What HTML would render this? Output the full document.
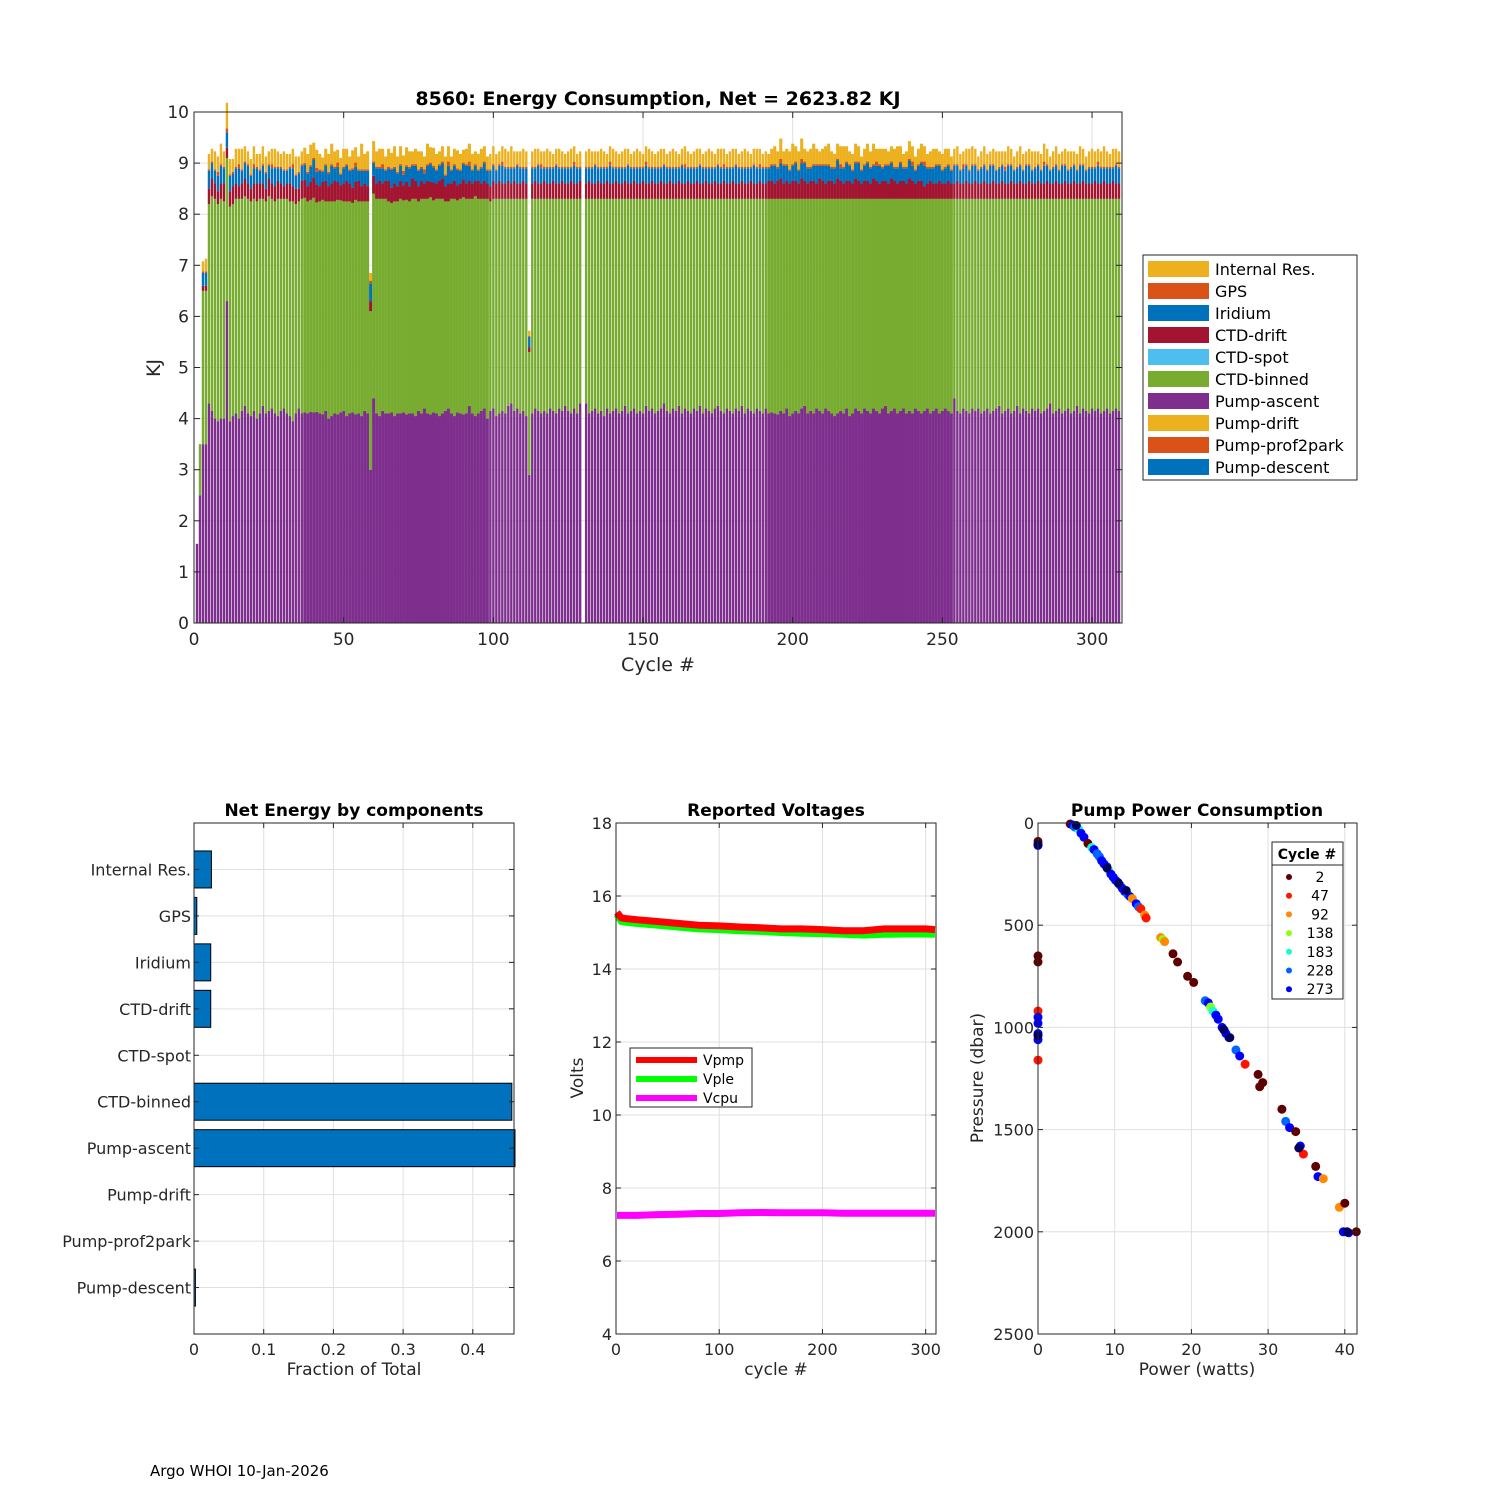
<!DOCTYPE html>
<html><head><meta charset="utf-8">
<style>
body{margin:0;background:#fff;}
svg{display:block;font-family:"DejaVu Sans","Liberation Sans",sans-serif;}
</style></head>
<body>
<svg id="fig" width="1500" height="1500" viewBox="0 0 1500 1500" xmlns="http://www.w3.org/2000/svg">
<rect width="1500" height="1500" fill="#fff"/>
<g id="top"></g>
<g id="comp"></g>
<g id="volt"></g>
<g id="pump"></g>
<text x="150" y="1476" font-size="15" fill="#000">Argo WHOI 10-Jan-2026</text>
</svg>
<script>
// ===== Top chart data (per cycle 1..309) =====
const ascent=[1.55,2.5,3.5,3.5,4.3,4.15,4.0,3.95,4.0,4.0,
6.3,3.95,4.05,4.1,4.0,4.15,4.25,4.1,4.05,4.15,
4.0,4.1,4.25,4.1,4.15,4.2,4.1,4.05,4.15,4.2,
4.1,4.05,3.95,4.1,4.2,4.1,4.12,4.1,4.13,4.12,
4.13,4.1,4.08,4.15,4.0,4.05,4.1,4.08,4.12,4.15,
4.05,4.1,4.12,4.08,4.1,4.05,4.15,4.1,3.0,4.4,
4.1,4.05,4.15,4.1,4.1,4.12,4.05,4.1,4.1,4.12,
4.08,4.1,4.1,4.05,4.15,4.1,4.2,4.1,4.08,4.12,
4.1,4.05,4.1,4.15,4.2,4.1,4.05,4.12,4.1,4.08,
4.1,4.25,4.1,4.05,4.1,4.15,4.2,4.0,4.15,4.2,
4.05,4.1,4.15,4.1,4.25,4.3,4.15,4.2,4.1,4.15,
4.05,2.9,4.1,4.2,4.15,4.1,4.15,4.1,4.2,4.15,
4.1,4.2,4.15,4.25,4.15,4.1,4.2,4.1,4.3,0,
4.3,4.1,4.15,4.2,4.1,4.15,4.05,4.2,4.1,4.15,
4.2,4.1,4.15,4.25,4.1,4.15,4.2,4.1,4.15,4.1,
4.25,4.15,4.2,4.1,4.15,4.2,4.3,4.15,4.1,4.2,
4.15,4.25,4.1,4.2,4.15,4.1,4.2,4.15,4.25,4.1,
4.2,4.15,4.1,4.2,4.25,4.15,4.1,4.2,4.15,4.1,
4.2,4.15,4.25,4.1,4.2,4.15,4.1,4.2,4.15,4.1,
4.2,4.1,4.12,4.1,4.08,4.15,4.1,4.2,4.05,4.1,
4.15,4.1,4.2,4.25,4.1,4.15,4.1,4.2,4.15,4.1,
4.2,4.15,4.1,4.05,4.1,4.15,4.1,4.2,4.05,4.1,
4.2,4.15,4.1,4.2,4.15,4.1,4.2,4.15,4.1,4.2,
4.25,4.1,4.15,4.2,4.1,4.15,4.2,4.1,4.15,4.1,
4.2,4.15,4.1,4.15,4.2,4.1,4.15,4.2,4.1,4.15,
4.2,4.15,4.1,4.4,4.15,4.1,4.2,4.15,4.1,4.2,
4.15,4.2,4.1,4.15,4.2,4.1,4.15,4.2,4.25,4.1,
4.15,4.2,4.1,4.15,4.25,4.1,4.2,4.15,4.1,4.2,
4.15,4.2,4.1,4.15,4.2,4.3,4.1,4.15,4.2,4.1,
4.15,4.2,4.1,4.15,4.25,4.1,4.2,4.15,4.1,4.2,
4.15,4.2,4.1,4.15,4.2,4.1,4.15,4.2,4.15];
const binned=[0,1.0,3.0,3.0,3.9,4.2,4.3,4.25,4.3,4.25,
2.8,4.2,4.15,4.2,4.3,4.15,4.1,4.2,4.2,4.15,
4.25,4.2,4.05,4.15,4.2,4.1,4.15,4.25,4.15,4.1,
4.2,4.2,4.3,4.1,4.05,4.2,4.2,4.15,4.15,4.2,
4.1,4.15,4.2,4.1,4.25,4.2,4.15,4.2,4.15,4.1,
4.2,4.15,4.1,4.2,4.15,4.2,4.1,4.15,3.1,4.0,
4.2,4.25,4.15,4.2,4.15,4.1,4.2,4.15,4.2,4.15,
4.2,4.15,4.2,4.25,4.1,4.2,4.1,4.2,4.25,4.15,
4.2,4.25,4.2,4.1,4.05,4.2,4.25,4.15,4.2,4.25,
4.2,4.05,4.2,4.3,4.2,4.15,4.1,4.3,4.1,4.1,
4.25,4.2,4.15,4.2,4.05,4.0,4.15,4.1,4.2,4.15,
4.25,2.4,4.2,4.1,4.15,4.2,4.15,4.2,4.1,4.15,
4.2,4.1,4.15,4.05,4.15,4.2,4.1,4.2,4.0,0,
4.0,4.2,4.15,4.1,4.2,4.15,4.25,4.1,4.2,4.15,
4.1,4.2,4.15,4.05,4.2,4.15,4.1,4.2,4.15,4.2,
4.05,4.15,4.1,4.2,4.15,4.1,4.0,4.15,4.2,4.1,
4.15,4.05,4.2,4.1,4.15,4.2,4.1,4.15,4.05,4.2,
4.1,4.15,4.2,4.1,4.05,4.15,4.2,4.1,4.15,4.2,
4.1,4.15,4.05,4.2,4.1,4.15,4.2,4.1,4.15,4.2,
4.1,4.2,4.18,4.2,4.22,4.15,4.2,4.1,4.25,4.2,
4.15,4.2,4.1,4.05,4.2,4.15,4.2,4.1,4.15,4.2,
4.1,4.15,4.2,4.25,4.2,4.15,4.2,4.1,4.25,4.2,
4.1,4.15,4.2,4.1,4.15,4.2,4.1,4.15,4.2,4.1,
4.05,4.2,4.15,4.1,4.2,4.15,4.1,4.2,4.15,4.2,
4.1,4.15,4.2,4.15,4.1,4.2,4.15,4.1,4.2,4.15,
4.1,4.15,4.2,3.9,4.15,4.2,4.1,4.15,4.2,4.1,
4.15,4.1,4.2,4.15,4.1,4.2,4.15,4.1,4.05,4.2,
4.15,4.1,4.2,4.15,4.05,4.2,4.1,4.15,4.2,4.1,
4.15,4.1,4.2,4.15,4.1,4.0,4.2,4.15,4.1,4.2,
4.15,4.1,4.2,4.15,4.05,4.2,4.1,4.15,4.2,4.1,
4.15,4.1,4.2,4.15,4.1,4.2,4.15,4.1,4.15];
const ctdDrift=[0,0,.1,.1,.3,.35,.3,.25,.3,.35,
.2,.3,.35,.3,.25,.3,.35,.3,.25,.3,
.35,.3,.3,.25,.35,.3,.3,.35,.3,.25,
.3,.35,.3,.3,.25,.35,.35,.3,.35,.4,
.35,.3,.35,.4,.3,.35,.4,.35,.3,.35,
.4,.35,.3,.35,.4,.3,.35,.3,.2,.35,
.3,.35,.3,.35,.4,.3,.35,.3,.35,.3,
.35,.3,.4,.35,.3,.35,.3,.35,.3,.35,
.3,.35,.4,.3,.35,.3,.35,.3,.3,.35,
.3,.35,.3,.3,.35,.3,.35,.3,.3,.35,
.3,.35,.3,.3,.35,.3,.35,.3,.3,.35,
.3,.1,.3,.35,.3,.3,.35,.3,.3,.35,
.3,.3,.35,.3,.3,.35,.3,.3,.35,0,
.3,.35,.3,.3,.35,.3,.3,.35,.3,.3,
.35,.3,.3,.35,.3,.3,.35,.3,.3,.35,
.3,.3,.35,.3,.3,.35,.3,.3,.35,.3,
.3,.35,.3,.3,.35,.3,.3,.35,.3,.3,
.35,.3,.3,.35,.3,.3,.35,.3,.3,.35,
.3,.3,.35,.3,.3,.35,.3,.3,.35,.3,
.3,.35,.35,.3,.35,.4,.3,.35,.3,.35,
.35,.3,.4,.35,.3,.35,.35,.3,.4,.35,
.3,.35,.35,.3,.4,.35,.3,.35,.35,.3,
.4,.35,.3,.35,.35,.3,.4,.35,.3,.35,
.35,.3,.4,.35,.3,.35,.35,.3,.4,.35,
.3,.35,.35,.25,.3,.35,.3,.3,.35,.3,
.3,.35,.3,.3,.35,.3,.3,.35,.3,.3,
.35,.3,.3,.35,.3,.3,.35,.3,.3,.35,
.3,.3,.35,.3,.3,.35,.3,.3,.35,.3,
.3,.35,.3,.3,.35,.3,.3,.35,.3,.3,
.35,.3,.3,.35,.3,.3,.35,.3,.3,
.3,.35,.3,.3,.35,.3,.3,.35,.3,.3,.35];
const iridium=[0,0,.25,.25,.35,.3,.25,.3,.35,.3,
.3,.3,.25,.3,.35,.25,.3,.35,.25,.3,
.3,.25,.35,.3,.25,.3,.35,.25,.3,.3,
.25,.3,.35,.25,.3,.3,.3,.25,.3,.35,
.25,.3,.2,.3,.25,.35,.25,.3,.2,.3,
.3,.25,.35,.3,.2,.3,.25,.3,.35,.25,
.3,.25,.3,.2,.25,.35,.3,.25,.3,.2,
.3,.35,.25,.3,.3,.25,.2,.3,.35,.3,
.25,.3,.3,.2,.35,.25,.3,.3,.25,.3,
.35,.3,.25,.3,.2,.3,.35,.25,.3,.3,
.25,.3,.35,.3,.25,.3,.25,.35,.3,.25,
.3,.2,.3,.25,.35,.3,.25,.3,.3,.25,
.35,.3,.25,.3,.3,.25,.35,.3,.25,0,
.3,.25,.3,.35,.25,.3,.3,.25,.35,.3,
.25,.3,.3,.25,.35,.3,.25,.3,.3,.25,
.35,.3,.25,.3,.3,.25,.35,.3,.25,.3,
.3,.25,.35,.3,.25,.3,.3,.25,.35,.3,
.25,.3,.3,.25,.35,.3,.25,.3,.3,.25,
.35,.3,.25,.3,.3,.25,.35,.3,.25,.3,
.3,.25,.3,.35,.25,.3,.35,.3,.25,.3,
.35,.25,.3,.35,.3,.25,.3,.35,.25,.3,
.35,.3,.25,.3,.35,.25,.3,.35,.3,.25,
.3,.35,.25,.3,.35,.3,.25,.3,.35,.25,
.3,.35,.3,.25,.3,.35,.25,.3,.35,.3,
.25,.3,.35,.4,.3,.25,.3,.35,.3,.25,
.3,.3,.25,.35,.3,.25,.3,.3,.25,.35,
.3,.25,.3,.3,.25,.35,.3,.25,.3,.3,
.25,.35,.3,.25,.3,.3,.25,.35,.3,.25,
.3,.3,.25,.35,.3,.25,.3,.3,.25,.35,
.3,.25,.3,.3,.25,.35,.3,.25,.3,
.3,.25,.35,.3,.25,.3,.3,.25,.35,.3,.25];
const gps=[0,0,.03,.03,.03,.03,.03,.08,.03,.03,
.08,.03,.03,.03,.08,.03,.03,.03,.03,.08,
.03,.03,.03,.03,.03,.08,.03,.03,.03,.03,
.03,.03,.08,.03,.03,.03,.03,.03,.03,.03,
.08,.03,.03,.03,.03,.03,.03,.08,.03,.03,
.03,.03,.03,.08,.03,.03,.03,.03,.05,.03,
.03,.03,.08,.03,.03,.03,.03,.03,.03,.08,
.03,.03,.03,.03,.03,.03,.08,.03,.03,.03,
.03,.03,.03,.03,.08,.03,.03,.03,.03,.03,
.03,.08,.03,.03,.03,.03,.03,.03,.03,.03,
.03,.03,.08,.03,.03,.03,.03,.03,.03,.03,
.03,.02,.03,.03,.03,.08,.03,.03,.03,.03,
.03,.03,.03,.03,.03,.03,.08,.03,.03,0,
.03,.03,.03,.03,.03,.03,.03,.03,.08,.03,
.03,.03,.03,.03,.03,.03,.03,.03,.03,.03,
.08,.03,.03,.03,.03,.03,.03,.03,.03,.03,
.03,.03,.03,.08,.03,.03,.03,.03,.03,.03,
.03,.03,.03,.03,.03,.03,.08,.03,.03,.03,
.03,.03,.03,.03,.03,.03,.03,.03,.08,.03,
.03,.03,.03,.03,.03,.08,.03,.03,.03,.03,
.03,.03,.08,.03,.03,.03,.03,.03,.03,.03,
.03,.03,.03,.03,.03,.08,.03,.03,.03,.03,
.03,.03,.03,.03,.03,.03,.03,.08,.03,.03,
.03,.03,.03,.03,.03,.03,.03,.03,.03,.08,
.03,.03,.03,.08,.03,.03,.03,.03,.03,.03,
.03,.03,.03,.03,.03,.03,.08,.03,.03,.03,
.03,.03,.03,.03,.03,.03,.03,.03,.03,.03,
.08,.03,.03,.03,.03,.03,.03,.03,.03,.03,
.03,.03,.03,.08,.03,.03,.03,.03,.03,.03,
.03,.03,.03,.03,.03,.03,.03,.03,.03,
.03,.03,.08,.03,.03,.03,.03,.03,.03,.03,.03];
const internalRes=[0,0,.2,.25,.3,.25,.35,.3,.4,.3,
.5,.3,.25,.35,.3,.4,.3,.25,.3,.35,
.25,.3,.35,.3,.25,.3,.35,.3,.25,.35,
.3,.25,.3,.35,.3,.25,.3,.35,.4,.3,
.35,.3,.25,.3,.35,.4,.3,.25,.3,.35,
.3,.25,.35,.3,.25,.5,.3,.35,.15,.4,
.3,.35,.3,.25,.35,.3,.4,.3,.35,.3,
.35,.3,.25,.3,.35,.3,.25,.4,.3,.35,
.3,.25,.3,.35,.3,.25,.3,.35,.3,.25,
.3,.35,.3,.25,.3,.35,.3,.25,.3,.35,
.3,.25,.3,.35,.3,.4,.3,.25,.3,.35,
.3,.1,.3,.35,.3,.25,.3,.35,.3,.25,
.3,.35,.3,.25,.3,.35,.3,.25,.3,0,
.3,.35,.3,.25,.3,.35,.3,.25,.3,.35,
.3,.25,.3,.35,.3,.25,.3,.35,.3,.25,
.3,.35,.3,.25,.3,.35,.3,.25,.3,.35,
.3,.25,.3,.35,.3,.25,.3,.35,.3,.25,
.3,.35,.3,.25,.3,.35,.3,.25,.3,.35,
.3,.25,.3,.35,.3,.25,.3,.35,.3,.25,
.3,.25,.3,.35,.3,.4,.25,.3,.35,.4,
.3,.35,.4,.25,.3,.35,.4,.3,.25,.3,
.35,.4,.3,.25,.3,.35,.4,.3,.25,.3,
.35,.3,.25,.3,.35,.3,.4,.25,.3,.35,
.3,.25,.3,.35,.4,.3,.25,.3,.35,.3,
.25,.3,.35,.3,.25,.3,.35,.3,.25,.3,
.35,.3,.25,.3,.35,.3,.25,.3,.4,.35,
.3,.25,.3,.35,.3,.25,.3,.35,.3,.25,
.3,.35,.3,.25,.3,.35,.3,.25,.3,.35,
.3,.25,.3,.35,.3,.25,.3,.35,.3,.25,
.3,.35,.3,.25,.3,.35,.3,.25,.3,
.35,.3,.25,.3,.4,.3,.25,.35,.3,.3,.25];
const yTicksTop=[0,1,2,3,4,5,6,7,8,9,10];
const xTicksTop=[0,50,100,150,200,250,300];
const legendNames=["Internal Res.","GPS","Iridium","CTD-drift","CTD-spot","CTD-binned","Pump-ascent","Pump-drift","Pump-prof2park","Pump-descent"];
const legendColors=["#EDB120","#D95319","#0072BD","#A2142F","#4DBEEE","#77AC30","#7E2F8E","#EDB120","#D95319","#0072BD"];

// ===== Net energy by components =====
const compNames=["Internal Res.","GPS","Iridium","CTD-drift","CTD-spot","CTD-binned","Pump-ascent","Pump-drift","Pump-prof2park","Pump-descent"];
const compFrac=[0.025,0.004,0.024,0.024,0,0.456,0.47,0,0,0.002];
const compTicks=[0,0.1,0.2,0.3,0.4];

// ===== Voltages =====
const voltCycles=[1,5,10,20,40,60,80,100,120,140,160,180,200,220,240,260,280,300,309];
const vPmp=[15.55,15.4,15.38,15.35,15.3,15.25,15.2,15.18,15.15,15.13,15.1,15.1,15.08,15.05,15.05,15.1,15.1,15.1,15.08];
const vPle=[15.5,15.3,15.28,15.25,15.2,15.15,15.1,15.08,15.05,15.03,15.0,14.98,14.97,14.95,14.93,14.95,14.96,14.96,14.95];
const vCpu=[7.25,7.25,7.25,7.25,7.27,7.28,7.3,7.3,7.32,7.33,7.32,7.32,7.32,7.31,7.31,7.31,7.31,7.31,7.31];
const voltXTicks=[0,100,200,300];
const voltYTicks=[4,6,8,10,12,14,16,18];

// ===== Pump power scatter =====
const scPower=[4.2,4.5,4.8,5.3,5.6,6,6.5,7,7.3,7.7,8,8.3,8.6,9,9.2,9.5,9.8,10.1,10.4,10.7,11,11.3,11.7,12,12.3,12.8,13.1,13.4,13.9,14.1,
16,16.3,16.5,17.6,18.2,19.5,20.3,21.8,22.2,22.5,22.8,23.2,23.5,24,24.3,24.5,24.9,25.8,26.3,27,28.7,29.3,28.9,
31.8,32.3,32.8,33.6,34.2,34.6,36.2,36.5,37.2,39.3,40,39.8,40.5,41.5,
0,0,0,0,0,0,0,0,0,0,
5,10.5,11.5,24.2,34,0,0,40.3,9,25];
const scPressure=[5,10,20,30,50,70,100,120,130,150,165,185,200,215,230,250,265,280,290,305,320,335,350,360,370,395,410,420,450,465,
560,570,580,640,680,750,780,870,880,900,920,940,960,1000,1015,1030,1050,1110,1140,1180,1230,1270,1290,
1400,1460,1490,1510,1580,1620,1680,1730,1740,1880,1860,2000,2005,2000,
90,110,650,680,920,950,980,1030,1060,1160,
12,295,330,1010,1590,1040,105,2000,220,1050];
const scCycle=[2,273,228,183,273,273,2,183,273,228,228,273,273,273,183,273,273,273,273,228,273,273,228,273,92,273,228,47,92,47,
92,138,92,2,2,2,2,228,273,138,183,273,273,273,228,273,273,228,273,47,2,2,2,
2,228,273,2,273,47,2,273,92,92,2,273,273,2,
2,273,2,2,47,273,273,273,273,47,
309,309,309,309,309,309,309,309,309,309];
const cycleLegend=[2,47,92,138,183,228,273];
const cycleColors={2:"#5c0000",47:"#ff1400",92:"#ff8a00",138:"#8cff14",183:"#14ffc8",228:"#0064ff",273:"#0000ff",309:"#000060"};
const pumpXTicks=[0,10,20,30,40];
const pumpYTicks=[0,500,1000,1500,2000,2500];

const NS="http://www.w3.org/2000/svg";
function mk(parent,tag,attrs,txt){const e=document.createElementNS(NS,tag);for(const k in attrs)e.setAttribute(k,attrs[k]);if(txt!==undefined)e.textContent=txt;parent.appendChild(e);return e;}

// ---------- TOP CHART ----------
(function(){
  const g=document.getElementById('top');
  const L=194,R=1122,T=112,B=623;
  const xs=c=>L+c*(R-L)/310, ys=v=>B-v*(B-T)/10;
  mk(g,'rect',{x:L,y:T,width:R-L,height:B-T,fill:'#fff'});
  yTicksTop.forEach(t=>{const l=mk(g,'line',{x1:L,x2:R,y1:ys(t),y2:ys(t),stroke:'#dfdfdf','stroke-width':1});});
  xTicksTop.forEach(t=>{const l=mk(g,'line',{x1:xs(t),x2:xs(t),y1:T,y2:B,stroke:'#dfdfdf','stroke-width':1});});
  const series=[ascent,binned,ctdDrift,iridium,gps,internalRes];
  const cols=["#7E2F8E","#77AC30","#A2142F","#0072BD","#D95319","#EDB120"];
  const bars=mk(g,'g',{});
  
  for(let i=0;i<ascent.length;i++){
    const c=i+1;
    const edged=!((c>=37&&c<=98)||(c>=192&&c<=253));
    const w=(R-L)/310*(edged?0.8:1.02);
    const x0=xs(c)-w/2;
    let acc=0;
    series.forEach((s,k)=>{const v=s[i]||0;if(v<=0)return;
      const r=mk(bars,'rect',{x:x0.toFixed(2),y:ys(acc+v).toFixed(2),width:w.toFixed(2),height:(ys(acc)-ys(acc+v)).toFixed(2),fill:cols[k]});
      
      acc+=v;});
  }
  mk(g,'rect',{x:L,y:T,width:R-L,height:B-T,fill:'none',stroke:'#262626','stroke-width':1});
  yTicksTop.forEach(t=>{mk(g,'line',{x1:L,x2:L+6,y1:ys(t),y2:ys(t),stroke:'#262626'});mk(g,'line',{x1:R-6,x2:R,y1:ys(t),y2:ys(t),stroke:'#262626'});
    const tx=mk(g,'text',{x:L-5,y:ys(t)+6,'text-anchor':'end','font-size':17,fill:'#262626'},t);});
  xTicksTop.forEach(t=>{mk(g,'line',{x1:xs(t),x2:xs(t),y1:B,y2:B-6,stroke:'#262626'});mk(g,'line',{x1:xs(t),x2:xs(t),y1:T,y2:T+6,stroke:'#262626'});
    const tx=mk(g,'text',{x:xs(t),y:B+22,'text-anchor':'middle','font-size':17,fill:'#262626'},t);});
  const tt=mk(g,'text',{x:658,y:105,'text-anchor':'middle','font-size':19,'font-weight':'bold',fill:'#000','xml:space':'preserve'},'8560: Energy Consumption,  Net = 2623.82 KJ');
  
  const xl=mk(g,'text',{x:658,y:671,'text-anchor':'middle','font-size':19,fill:'#262626'},'Cycle #');
  
  const yl=mk(g,'text',{x:160,y:368,'text-anchor':'middle','font-size':19,fill:'#262626',transform:'rotate(-90 160 368)'},'KJ');
  
  const lg=mk(g,'g',{});
  mk(lg,'rect',{x:1143,y:255,width:214,height:225,fill:'#fff',stroke:'#262626'});
  legendNames.forEach((n,k)=>{const y=269+k*22;
    const e=mk(lg,'g',{});
    mk(e,'rect',{x:1148,y:y-8,width:61,height:16,fill:legendColors[k]});
    mk(e,'text',{x:1215,y:y+6,'font-size':16,fill:'#000'},n);});
})();

// ---------- COMPONENT BARS ----------
(function(){
  const g=document.getElementById('comp');
  const L=194,R=514,T=823,B=1334;
  const xs=v=>L+v*697;
  const step=(B-T)/11;
  const ys=i=>T+step*(i+1);
  mk(g,'rect',{x:L,y:T,width:R-L,height:B-T,fill:'#fff'});
  compTicks.forEach(t=>mk(g,'line',{x1:xs(t),x2:xs(t),y1:T,y2:B,stroke:'#dfdfdf'}));
  compNames.forEach((n,i)=>mk(g,'line',{x1:L,x2:R,y1:ys(i),y2:ys(i),stroke:'#dfdfdf'}));
  compFrac.forEach((v,i)=>{if(v<=0)return;const w=Math.min(xs(v),R+1)-L;
    const r=mk(g,'rect',{x:L,y:ys(i)-18.5,width:w,height:37,fill:'#0072BD',stroke:'#000','stroke-width':1});
    });
  mk(g,'rect',{x:L,y:T,width:R-L,height:B-T,fill:'none',stroke:'#262626'});
  compTicks.forEach(t=>{mk(g,'line',{x1:xs(t),x2:xs(t),y1:B,y2:B-5,stroke:'#262626'});mk(g,'line',{x1:xs(t),x2:xs(t),y1:T,y2:T+5,stroke:'#262626'});
    const tx=mk(g,'text',{x:xs(t),y:B+21,'text-anchor':'middle','font-size':16,fill:'#262626'},t);});
  compNames.forEach((n,i)=>{mk(g,'line',{x1:L,x2:L+5,y1:ys(i),y2:ys(i),stroke:'#262626'});mk(g,'line',{x1:R-5,x2:R,y1:ys(i),y2:ys(i),stroke:'#262626'});
    const tx=mk(g,'text',{x:L-3,y:ys(i)+6,'text-anchor':'end','font-size':16,fill:'#262626'},n);});
  const tt=mk(g,'text',{x:354,y:816,'text-anchor':'middle','font-size':17,'font-weight':'bold',fill:'#000'},'Net Energy by components');
  const xl=mk(g,'text',{x:354,y:1375,'text-anchor':'middle','font-size':17,fill:'#262626'},'Fraction of Total');
})();

// ---------- VOLTAGES ----------
(function(){
  const g=document.getElementById('volt');
  const L=616,R=936,T=823,B=1334;
  const xs=c=>L+c*(R-L)/310, ys=v=>B-(v-4)*(B-T)/14;
  mk(g,'rect',{x:L,y:T,width:R-L,height:B-T,fill:'#fff'});
  voltXTicks.forEach(t=>mk(g,'line',{x1:xs(t),x2:xs(t),y1:T,y2:B,stroke:'#dfdfdf'}));
  voltYTicks.forEach(t=>mk(g,'line',{x1:L,x2:R,y1:ys(t),y2:ys(t),stroke:'#dfdfdf'}));
  const sers=[[vPle,'#00ff00','vple-line'],[vPmp,'#ff0000','vpmp-line'],[vCpu,'#ff00ff','vcpu-line']];
  sers.forEach(([arr,c,n])=>{const d=arr.map((v,i)=>(i?'L':'M')+xs(voltCycles[i]).toFixed(1)+' '+ys(v).toFixed(1)).join(' ');
    const p=mk(g,'path',{d:d,fill:'none',stroke:c,'stroke-width':7,'stroke-linejoin':'round'});});
  mk(g,'rect',{x:L,y:T,width:R-L,height:B-T,fill:'none',stroke:'#262626'});
  voltXTicks.forEach(t=>{mk(g,'line',{x1:xs(t),x2:xs(t),y1:B,y2:B-5,stroke:'#262626'});mk(g,'line',{x1:xs(t),x2:xs(t),y1:T,y2:T+5,stroke:'#262626'});
    const tx=mk(g,'text',{x:xs(t),y:B+21,'text-anchor':'middle','font-size':16,fill:'#262626'},t);});
  voltYTicks.forEach(t=>{mk(g,'line',{x1:L,x2:L+5,y1:ys(t),y2:ys(t),stroke:'#262626'});mk(g,'line',{x1:R-5,x2:R,y1:ys(t),y2:ys(t),stroke:'#262626'});
    const tx=mk(g,'text',{x:L-4,y:ys(t)+6,'text-anchor':'end','font-size':16,fill:'#262626'},t);});
  const tt=mk(g,'text',{x:776,y:816,'text-anchor':'middle','font-size':17,'font-weight':'bold',fill:'#000'},'Reported Voltages');
  const xl=mk(g,'text',{x:776,y:1375,'text-anchor':'middle','font-size':17,fill:'#262626'},'cycle #');
  const yl=mk(g,'text',{x:583,y:1078,'text-anchor':'middle','font-size':17,fill:'#262626',transform:'rotate(-90 583 1078)'},'Volts');
  const lg=mk(g,'g',{});
  mk(lg,'rect',{x:630,y:1048,width:122,height:59,fill:'#fff',stroke:'#262626'});
  [['Vpmp','#ff0000'],['Vple','#00ff00'],['Vcpu','#ff00ff']].forEach(([n,c],k)=>{const y=1060+k*19;
    const e=mk(lg,'g',{});
    mk(e,'line',{x1:636,x2:697,y1:y,y2:y,stroke:c,'stroke-width':6});
    mk(e,'text',{x:703,y:y+5,'font-size':14,fill:'#000'},n);});
})();

// ---------- PUMP POWER ----------
(function(){
  const g=document.getElementById('pump');
  const L=1038,R=1357,T=823,B=1334;
  const xs=v=>L+v*7.67, ys=p=>T+p*(B-T)/2500;
  mk(g,'rect',{x:L,y:T,width:R-L,height:B-T,fill:'#fff'});
  pumpXTicks.forEach(t=>mk(g,'line',{x1:xs(t),x2:xs(t),y1:T,y2:B,stroke:'#dfdfdf'}));
  pumpYTicks.forEach(t=>mk(g,'line',{x1:L,x2:R,y1:ys(t),y2:ys(t),stroke:'#dfdfdf'}));
  const pts=mk(g,'g',{});
  scPower.forEach((v,i)=>{const c=mk(pts,'circle',{cx:xs(v).toFixed(1),cy:ys(scPressure[i]).toFixed(1),r:4.5,fill:cycleColors[scCycle[i]]});
    });
  mk(g,'rect',{x:L,y:T,width:R-L,height:B-T,fill:'none',stroke:'#262626'});
  pumpXTicks.forEach(t=>{mk(g,'line',{x1:xs(t),x2:xs(t),y1:B,y2:B-5,stroke:'#262626'});mk(g,'line',{x1:xs(t),x2:xs(t),y1:T,y2:T+5,stroke:'#262626'});
    const tx=mk(g,'text',{x:xs(t),y:B+21,'text-anchor':'middle','font-size':16,fill:'#262626'},t);});
  pumpYTicks.forEach(t=>{mk(g,'line',{x1:L,x2:L+5,y1:ys(t),y2:ys(t),stroke:'#262626'});mk(g,'line',{x1:R-5,x2:R,y1:ys(t),y2:ys(t),stroke:'#262626'});
    const tx=mk(g,'text',{x:L-4,y:ys(t)+6,'text-anchor':'end','font-size':16,fill:'#262626'},t);});
  const tt=mk(g,'text',{x:1197,y:816,'text-anchor':'middle','font-size':17,'font-weight':'bold',fill:'#000'},'Pump Power Consumption');
  const xl=mk(g,'text',{x:1197,y:1375,'text-anchor':'middle','font-size':17,fill:'#262626'},'Power (watts)');
  const yl=mk(g,'text',{x:983,y:1078,'text-anchor':'middle','font-size':17,fill:'#262626',transform:'rotate(-90 983 1078)'},'Pressure (dbar)');
  const lg=mk(g,'g',{});
  mk(lg,'rect',{x:1272,y:842,width:71,height:157,fill:'#fff',stroke:'#262626'});
  mk(lg,'line',{x1:1272,x2:1343,y1:865,y2:865,stroke:'#262626'});
  mk(lg,'text',{x:1307,y:859,'text-anchor':'middle','font-size':14,'font-weight':'bold',fill:'#000'},'Cycle #');
  cycleLegend.forEach((c,k)=>{const y=877+k*18.7;
    const e=mk(lg,'g',{});
    mk(e,'circle',{cx:1289,cy:y,r:3,fill:cycleColors[c]});
    mk(e,'text',{x:1320,y:y+5,'text-anchor':'middle','font-size':14,fill:'#000'},c);});
})();
</script>
</body></html>
